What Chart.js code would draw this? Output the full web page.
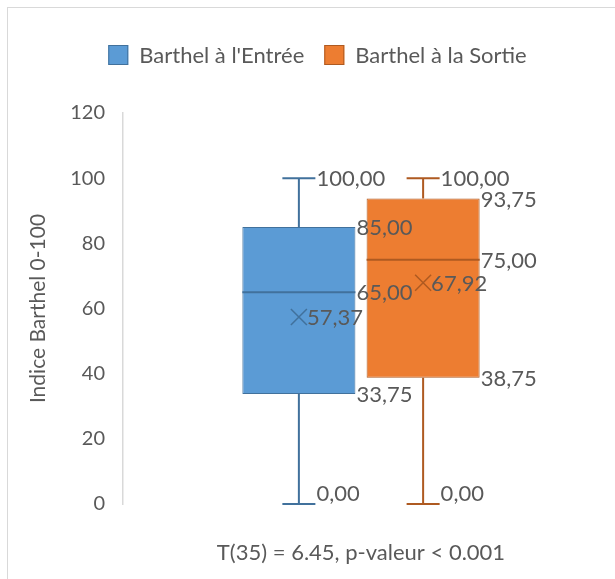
<!DOCTYPE html>
<html>
<head>
<meta charset="utf-8">
<script src="https://cdn.jsdelivr.net/npm/chart.js@4.4.0/dist/chart.umd.min.js"></script>
<style>
  html, body { margin: 0; padding: 0; background: #fff; overflow: hidden; }
  #frame { position: absolute; left: 7px; top: 7px; width: 640px; height: 600px;
           border-left: 1px solid #d9d9d9; border-top: 1px solid #d9d9d9; }
  #wrap { position: absolute; left: 0; top: 0; width: 615px; height: 579px; }
</style>
</head>
<body>
<div id="frame"></div>
<div id="wrap"><canvas id="chart"></canvas></div>
<script>
// donnees du boxplot
const seriesNames = ["Barthel à l'Entrée", "Barthel à la Sortie"];
const minValues = [0, 0];
const q1Values = [33.75, 38.75];
const medianValues = [65, 75];
const q3Values = [85, 93.75];
const maxValues = [100, 100];
const meanValues = [57.37, 67.92];
const yMin = 0, yMax = 120, yStep = 20;
const xTitle = 'T(35) = 6.45, p-valeur < 0.001';
const yTitle = 'Indice Barthel 0-100';

const fillColors = ['#5B9BD5', '#ED7D31'];
const lineColors = ['#41719C', '#AE5A21'];
const textColor = '#595959';
const FONT = 'Lato, "Open Sans", sans-serif';

function fmt(v) {
    return v.toFixed(2).replace('.', ',');
}

// moustaches, mediane, moyenne et etiquettes
const boxExtras = {
    id: 'boxExtras',
    afterDatasetsDraw(chart) {
        const ctx = chart.ctx;
        const y = chart.scales.y;
        const area = chart.chartArea;
        ctx.save();
        ctx.font = '22px ' + FONT;
        ctx.textBaseline = 'middle';
        ctx.textAlign = 'left';
        chart.data.datasets.forEach((ds, i) => {
            const bar = chart.getDatasetMeta(i).data[0];
            const cx = bar.x;
            const half = bar.width / 2;
            const right = cx + half;
            const cap = bar.width * 0.146;
            const yMaxPx = y.getPixelForValue(maxValues[i]);
            const yMinPx = y.getPixelForValue(minValues[i]);
            const yQ1 = y.getPixelForValue(q1Values[i]);
            const yQ3 = y.getPixelForValue(q3Values[i]);
            const yMed = y.getPixelForValue(medianValues[i]);
            const yMean = y.getPixelForValue(meanValues[i]);

            ctx.strokeStyle = lineColors[i];
            ctx.lineWidth = 2;
            ctx.beginPath();
            ctx.moveTo(cx, yMaxPx); ctx.lineTo(cx, yQ3);
            ctx.moveTo(cx, yQ1); ctx.lineTo(cx, yMinPx);
            ctx.moveTo(cx - cap, yMaxPx); ctx.lineTo(cx + cap, yMaxPx);
            ctx.moveTo(cx - cap, yMinPx); ctx.lineTo(cx + cap, yMinPx);
            ctx.moveTo(cx - half, yMed); ctx.lineTo(right, yMed);
            ctx.stroke();

            // croix de la moyenne
            ctx.lineWidth = 1.5;
            ctx.beginPath();
            ctx.moveTo(cx - 8, yMean - 8); ctx.lineTo(cx + 8, yMean + 8);
            ctx.moveTo(cx + 8, yMean - 8); ctx.lineTo(cx - 8, yMean + 8);
            ctx.stroke();

            ctx.fillStyle = textColor;
            const lab = (txt, x, yy) => ctx.fillText(txt, x, Math.min(yy + 1, area.bottom - 10));
            lab(fmt(maxValues[i]), cx + cap + 1, yMaxPx);
            lab(fmt(minValues[i]), cx + cap + 1, yMinPx);
            lab(fmt(q3Values[i]), right + 1, yQ3);
            lab(fmt(medianValues[i]), right + 1, yMed);
            lab(fmt(q1Values[i]), right + 1, yQ1);
            lab(fmt(meanValues[i]), cx + 8, yMean);
        });
        ctx.restore();
    },
    afterDraw(chart) {
        // legende en haut
        const ctx = chart.ctx;
        ctx.save();
        ctx.font = '22px ' + FONT;
        ctx.textBaseline = 'middle';
        const box = 20, gap = 11, sep = 20;
        const widths = seriesNames.map(n => box + gap + ctx.measureText(n).width);
        const total = widths.reduce((a, b) => a + b, 0) + sep * (seriesNames.length - 1);
        let x = 317.5 - total / 2;
        const yc = 55;
        seriesNames.forEach((n, i) => {
            ctx.fillStyle = fillColors[i];
            ctx.fillRect(x, yc - box / 2, box, box);
            ctx.strokeStyle = lineColors[i];
            ctx.lineWidth = 1;
            ctx.strokeRect(x + 0.5, yc - box / 2 + 0.5, box - 1, box - 1);
            ctx.fillStyle = textColor;
            ctx.fillText(n, x + box + gap, yc + 1);
            x += widths[i] + sep;
        });
        ctx.restore();
    }
};

const datasets = seriesNames.map((name, i) => ({
    label: name,
    data: [[q1Values[i], q3Values[i]]],
    backgroundColor: fillColors[i],
    borderColor: lineColors[i],
    borderWidth: 1,
    borderSkipped: false,
    categoryPercentage: 0.522,
    barPercentage: 0.91
}));

new Chart(document.getElementById('chart'), {
    type: 'bar',
    data: { labels: [''], datasets: datasets },
    options: {
        responsive: true,
        maintainAspectRatio: false,
        animation: false,
        layout: { padding: { top: 113, right: 16, left: 0, bottom: 0 } },
        plugins: {
            legend: { display: false },
            tooltip: { enabled: false }
        },
        scales: {
            x: {
                grid: { display: false },
                border: { display: false },
                ticks: { display: false },
                title: {
                    display: true,
                    text: xTitle,
                    color: textColor,
                    font: { family: FONT, size: 22 },
                    padding: { top: 0, bottom: 13 }
                },
                afterFit(scale) { scale.height = 75; }
            },
            y: {
                min: yMin,
                max: yMax,
                ticks: {
                    stepSize: yStep,
                    color: textColor,
                    font: { family: FONT, size: 20 },
                    padding: 18
                },
                grid: { display: false, drawTicks: false },
                border: { display: true, color: '#d9d9d9', width: 1.5 },
                title: {
                    display: true,
                    text: yTitle,
                    color: textColor,
                    font: { family: FONT, size: 21 },
                    padding: { top: 26, bottom: 0 }
                },
                afterFit(scale) { scale.width = 123; }
            }
        }
    },
    plugins: [boxExtras]
});
</script>
</body>
</html>
